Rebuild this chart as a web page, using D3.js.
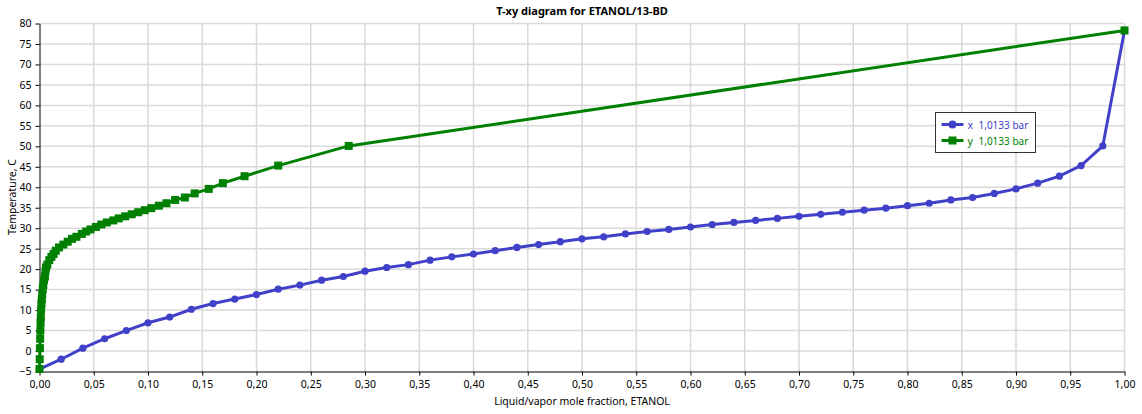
<!DOCTYPE html>
<html><head><meta charset="utf-8">
<script src="https://cdn.jsdelivr.net/npm/d3@7"></script>
<style>body{margin:0;background:#fff}text{font-family:"Noto Sans","Open Sans",sans-serif}</style>
</head><body><svg id="c" width="1142" height="414"></svg>
<script>
const liquidX = [0,0.02,0.04,0.06,0.08,0.10,0.12,0.14,0.16,0.18,0.20,0.22,0.24,0.26,0.28,0.30,0.32,0.34,0.36,0.38,0.40,0.42,0.44,0.46,0.48,0.50,0.52,0.54,0.56,0.58,0.60,0.62,0.64,0.66,0.68,0.70,0.72,0.74,0.76,0.78,0.80,0.82,0.84,0.86,0.88,0.90,0.92,0.94,0.96,0.98,1.0];
const temps = [-4.4,-2.0,0.7,3.0,5.0,6.9,8.3,10.2,11.6,12.7,13.8,15.1,16.1,17.3,18.2,19.5,20.4,21.1,22.2,23.0,23.7,24.5,25.3,26.0,26.7,27.4,27.9,28.6,29.2,29.7,30.3,30.9,31.4,31.9,32.4,32.9,33.4,33.9,34.4,34.9,35.5,36.1,36.9,37.5,38.5,39.6,41.0,42.7,45.3,50.1,78.3];
const vaporY = [0,0.0002,0.0004,0.0006,0.0008,0.001,0.0012,0.0015,0.0018,0.0021,0.0025,0.003,0.0035,0.0042,0.005,0.0055,0.006,0.0072,0.009,0.011,0.013,0.015,0.018,0.022,0.026,0.030,0.034,0.039,0.043,0.047,0.052,0.057,0.062,0.068,0.073,0.079,0.085,0.091,0.097,0.103,0.110,0.117,0.125,0.134,0.143,0.156,0.169,0.189,0.220,0.285,1.0];
const xTicks = d3.range(0,21).map(i=>i*0.05);
const yTicks = d3.range(-5,81,5);
const title = "T-xy diagram for ETANOL/13-BD";
const xTitle = "Liquid/vapor mole fraction, ETANOL";
const yTitle = "Temperature, C";
const seriesKeys = ["x","y"];
const seriesNames = ["1,0133 bar","1,0133 bar"];

const svg = d3.select("#c");
const L=39.5, R=1124.5, T=23.5, B=371.5;
const x = d3.scaleLinear().domain([0,1]).range([L,R]);
const y = d3.scaleLinear().domain([-5,80]).range([B,T]);
const fmt = d => d3.format(".2f")(d).replace(".",",");
const blue="#4040c8", green="#008000";

// grid
svg.append("g").selectAll("line").data(xTicks.slice(1)).join("line")
  .attr("x1",d=>x(d)).attr("x2",d=>x(d)).attr("y1",T).attr("y2",B)
  .attr("stroke","#d9d9d9").attr("stroke-width",1.5);
svg.append("g").selectAll("line").data(yTicks.slice(1)).join("line")
  .attr("x1",L).attr("x2",R).attr("y1",d=>y(d)).attr("y2",d=>y(d))
  .attr("stroke","#d9d9d9").attr("stroke-width",1.5);

// axes
const xa = svg.append("g").attr("transform",`translate(0,${B})`)
  .call(d3.axisBottom(x).tickValues(xTicks).tickFormat(fmt).tickSize(4).tickSizeOuter(0));
const ya = svg.append("g").attr("transform",`translate(${L},0)`)
  .call(d3.axisLeft(y).tickValues(yTicks).tickSize(4).tickSizeOuter(0));
[xa,ya].forEach(a=>{a.selectAll("text").attr("font-size",10.5).attr("fill","#000").attr("font-family","Noto Sans");
  a.select(".domain").attr("stroke","#000"); a.selectAll(".tick line").attr("stroke","#000");});
xa.selectAll("text").attr("dy","0.9em");
ya.selectAll("text").attr("dx","-1");

// titles
svg.append("text").attr("x",582).attr("y",15).attr("text-anchor","middle").attr("font-size",11).attr("font-weight","bold").text(title);
svg.append("text").attr("x",582).attr("y",405).attr("text-anchor","middle").attr("font-size",10.5).text(xTitle);
svg.append("text").attr("transform","translate(16,197) rotate(-90)").attr("text-anchor","middle").attr("font-size",10.5).text(yTitle);

// series
const liq = liquidX.map((v,i)=>[v,temps[i]]);
const vap = vaporY.map((v,i)=>[v,temps[i]]);
const line = d3.line().x(d=>x(d[0])).y(d=>y(d[1]));
svg.append("path").datum(liq).attr("d",line).attr("fill","none").attr("stroke",blue).attr("stroke-width",3);
svg.append("g").selectAll("circle").data(liq).join("circle")
  .attr("cx",d=>x(d[0])).attr("cy",d=>y(d[1])).attr("r",3.6).attr("fill",blue);
svg.append("path").datum(vap).attr("d",line).attr("fill","none").attr("stroke",green).attr("stroke-width",3);
svg.append("g").selectAll("rect").data(vap).join("rect")
  .attr("x",d=>x(d[0])-4).attr("y",d=>y(d[1])-4).attr("width",8).attr("height",8).attr("fill",green);

// legend
const lg = svg.append("g").attr("transform","translate(935.5,112.5)");
lg.append("rect").attr("width",100).attr("height",40).attr("fill","#fff").attr("stroke","#333");
[[blue,"c"],[green,"s"]].forEach((s,i)=>{
  const yy = 12+i*16;
  lg.append("line").attr("x1",6).attr("x2",28).attr("y1",yy).attr("y2",yy).attr("stroke",s[0]).attr("stroke-width",3);
  if(s[1]==="c") lg.append("circle").attr("cx",17).attr("cy",yy).attr("r",4).attr("fill",s[0]);
  else lg.append("rect").attr("x",13).attr("y",yy-4).attr("width",8).attr("height",8).attr("fill",s[0]);
  lg.append("text").attr("x",32).attr("y",yy+4).attr("font-size",10.5).attr("fill",s[0]).text(seriesKeys[i]);
  lg.append("text").attr("x",43).attr("y",yy+4).attr("font-size",10).attr("fill",s[0]).text(seriesNames[i]);
});
</script></body></html>
